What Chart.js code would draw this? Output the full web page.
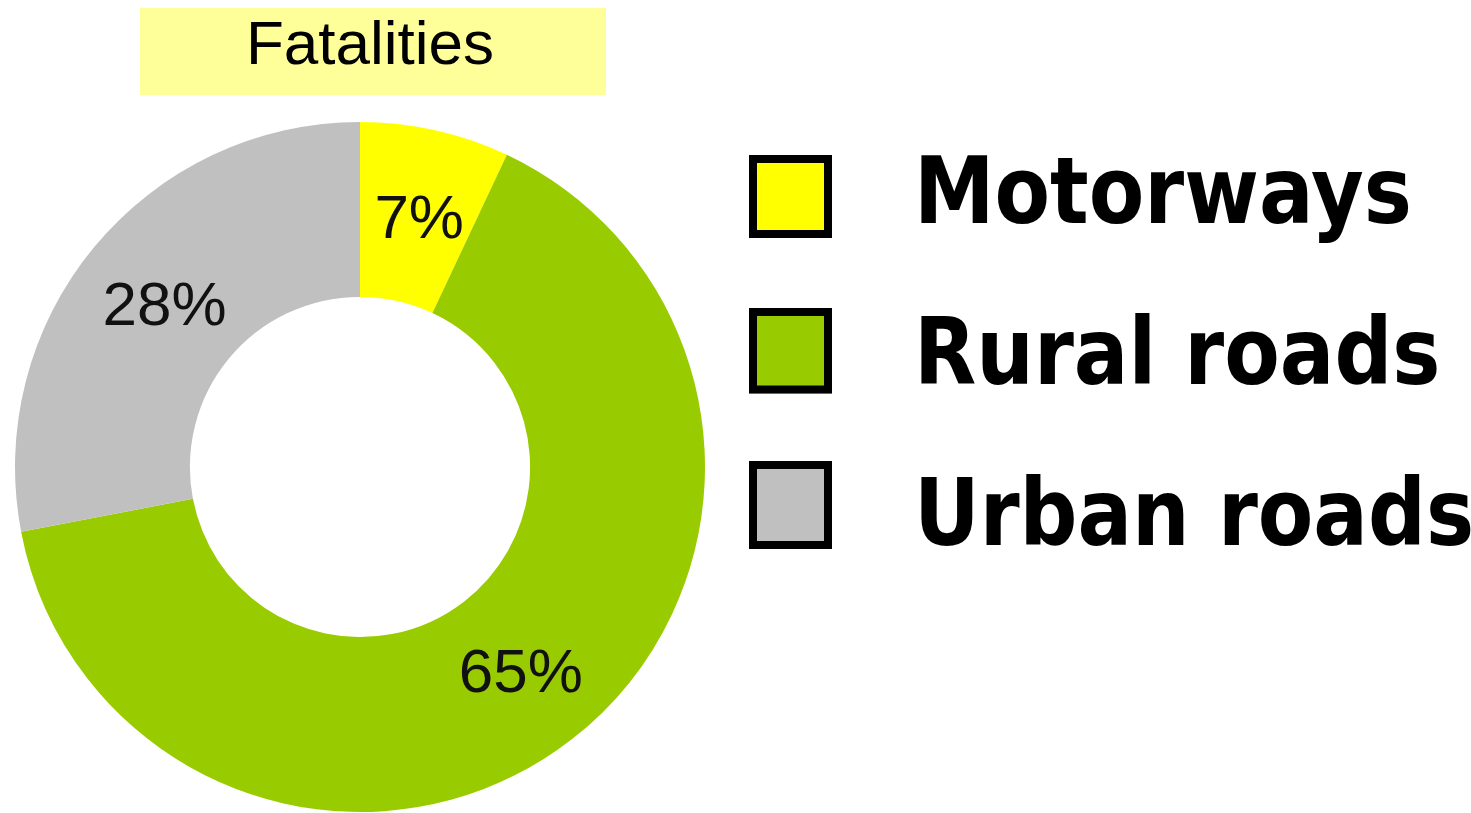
<!DOCTYPE html>
<html>
<head>
<meta charset="utf-8">
<title>Fatalities by road type</title>
<script src="https://cdn.jsdelivr.net/npm/chart.js@4/dist/chart.umd.min.js"></script>
<style>
  html, body { margin: 0; padding: 0; background: #ffffff; width: 1471px; height: 813px; overflow: hidden; }
  canvas { display: block; }
</style>
</head>
<body>
<canvas id="chart" width="1471" height="813"></canvas>
<script>
// Share of road fatalities by road type (percent)
const chartTitle = 'Fatalities';
const categories = ['Motorways', 'Rural roads', 'Urban roads'];
const shares = [7, 65, 28];
const sliceColors = ['#FFFF00', '#99CC00', '#C0C0C0'];

// Title box, side legend and in-slice percentages, drawn after the doughnut
const decorations = {
  id: 'decorations',
  afterDraw(chart) {
    const ctx = chart.ctx;
    ctx.save();

    // Title on a pale yellow band
    ctx.fillStyle = '#FFFF99';
    ctx.fillRect(140, 8, 466, 87);
    ctx.fillStyle = '#000000';
    ctx.font = '62px "Liberation Sans", Arial, sans-serif';
    ctx.textAlign = 'center';
    ctx.textBaseline = 'alphabetic';
    ctx.fillText(chartTitle, 370, 64);

    // Percent labels at the centre of each ring segment
    const meta = chart.getDatasetMeta(0);
    ctx.font = '62px "Liberation Sans", Arial, sans-serif';
    ctx.fillStyle = '#111111';
    meta.data.forEach((arc, i) => {
      const p = arc.getCenterPoint();
      ctx.fillText(shares[i] + '%', p.x + 3, p.y + 22);
    });

    // Legend: bordered swatches and bold labels
    categories.forEach((name, i) => {
      const top = 155 + i * 153;
      const size = 83 + i * 2.5;
      ctx.fillStyle = sliceColors[i];
      ctx.fillRect(749, top, 83, size);
      ctx.lineWidth = 8;
      ctx.strokeStyle = '#000000';
      ctx.strokeRect(753, top + 4, 75, size - 8);

      ctx.save();
      ctx.translate(914, 223 + i * 161);
      ctx.scale(0.87, 1);
      ctx.font = 'bold 93px "DejaVu Sans", Verdana, sans-serif';
      ctx.textAlign = 'left';
      ctx.fillStyle = '#000000';
      ctx.fillText(name, 0, 0);
      ctx.restore();
    });

    ctx.restore();
  }
};

new Chart(document.getElementById('chart'), {
  type: 'doughnut',
  data: {
    labels: categories,
    datasets: [{
      data: shares,
      backgroundColor: sliceColors,
      borderWidth: 0,
      hoverOffset: 0
    }]
  },
  options: {
    responsive: false,
    animation: false,
    cutout: '49.3%',
    layout: { padding: { left: 15, top: 122, right: 766, bottom: 1 } },
    plugins: {
      legend: { display: false },
      title: { display: false },
      tooltip: { enabled: false }
    }
  },
  plugins: [decorations]
});
</script>
</body>
</html>
